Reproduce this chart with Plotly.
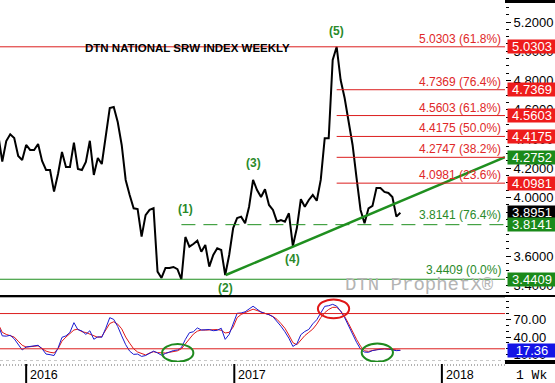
import pandas as pd
import plotly.graph_objects as go

# ---------------- data ----------------
week_start = "2015-11-13"
n_weeks = 102
dates = pd.date_range(week_start, periods=n_weeks, freq="7D")

price = [
    4.427, 4.245, 4.386, 4.432, 4.407, 4.284, 4.256, 4.359, 4.325, 4.325,
    4.366, 4.250, 4.188, 4.188, 4.040, 4.161, 4.311, 4.209, 4.209, 4.375,
    4.195, 4.188, 4.243, 4.388, 4.154, 4.270, 4.229, 4.407, 4.612, 4.619,
    4.516, 4.359, 4.120, 4.017, 3.926, 3.921, 3.732, 3.880, 3.915, 3.926,
    3.493, 3.450, 3.518, 3.518, 3.525, 3.510, 3.4409, 3.730, 3.664, 3.682,
    3.705, 3.629, 3.675, 3.527, 3.607, 3.653, 3.641, 3.470, 3.607, 3.791,
    3.860, 3.869, 3.824, 3.937, 4.120, 4.051, 4.003, 4.056, 3.949, 3.915,
    3.835, 3.846, 3.835, 3.892, 3.668, 3.791, 3.988, 3.937, 3.983, 4.017,
    3.978, 4.120, 4.405, 4.405, 4.940, 5.0303, 4.803, 4.680, 4.530, 4.359,
    4.133, 3.915, 3.824, 3.926, 3.942, 4.065, 4.065, 4.038, 4.031, 4.003,
    3.869, 3.8951,
]

stoch_k = [
    60, 42, 41.5, 43, 37, 27, 18, 23, 24, 25,
    26, 20, 11, 10, 8.5, 21, 39.5, 42, 48, 64.5,
    52.5, 50.5, 44.5, 50.7, 36.2, 40.5, 39.5, 55, 73, 70,
    58, 42, 27, 16, 10.5, 11, 7, 8.5, 13, 16,
    13, 9, 12, 14.5, 17, 18, 22, 36, 47.3, 49,
    55.5, 52, 52, 52.8, 50.8, 51.5, 55, 36, 44.5, 64,
    80.5, 81, 83, 87.8, 92.5, 87.5, 82.5, 80.2, 78.2, 74.5,
    67.3, 58.5, 49, 38, 24, 28.5, 44, 49.5, 53, 62.5,
    69.5, 80.5, 92.3, 93.4, 95.7, 92.7, 84, 73, 58, 44,
    31, 19.5, 14.4, 14, 17, 18.2, 19.6, 20, 19.5, 18,
    16.8, 17.36,
]

stoch_d = [
    62, 48, 44.5, 42.5, 40, 33, 26, 23, 23.2, 24.2,
    25, 20, 16, 14, 13, 20, 33, 40, 46, 52,
    53.5, 49, 47.7, 45, 41, 39.5, 41, 51.7, 63, 66,
    62, 54, 40, 29.5, 20, 14.5, 11.5, 9.5, 12.8, 15,
    13.5, 12.8, 12.8, 14, 15, 16.5, 20, 28, 37, 45,
    50, 52, 51.8, 52.3, 52.8, 52.8, 51.5, 47, 48, 57,
    73, 78.5, 81.6, 85, 87.5, 85.2, 83, 80.6, 78, 75,
    70.3, 63, 55, 43.4, 30.5, 26.9, 35, 42.5, 48, 53.5,
    62, 73, 81.5, 87, 90.6, 90.6, 84.5, 75, 62.8, 49,
    36, 24.5, 16.5, 15.6, 17, 18.7, 19.8, 20, 20, 19,
    18, 17.5,
]

x_range = ["2015-11-16", "2018-04-22"]
price_range = [3.3333, 5.3504]
stoch_range = [-2.5, 106.5]

# fibonacci levels
fib_red_levels = [4.7369, 4.5603, 4.4175, 4.2747, 4.0981]
fib_red_pcts = ["76.4%", "61.8%", "50.0%", "38.2%", "23.6%"]
top_level, top_pct = 5.0303, "61.8%"
retr_level, retr_pct = 3.8141, "76.4%"
base_level, base_pct = 3.4409, "0.0%"

# trendline (wave 2 low to right edge)
trend_dates = ["2016-12-17", "2018-04-22"]
trend_vals = [3.470, 4.2752]

# wave labels: (text, week index, anchor value, yshift)
wave_labels = [("(1)", 47, 3.8141, 16), ("(2)", 57, 3.470, -13),
               ("(3)", 64, 4.120, 17), ("(4)", 74, 3.668, -13),
               ("(5)", 85, 5.0303, 16)]

# value boxes on the right axis
boxes = [(5.0303, "#ee1c1c"), (4.7369, "#ee1c1c"), (4.5603, "#ee1c1c"),
         (4.4175, "#ee1c1c"), (4.2752, "#1a8a1a"), (4.0981, "#ee1c1c"),
         (3.8951, "#000000"), (3.8141, "#1a8a1a"), (3.4409, "#1a8a1a")]
stoch_box = 17.36

years = ["2016-01-01", "2017-01-01", "2018-01-01"]
year_labels = ["2016", "2017", "2018"]

stoch_levels = [80, 20]
stoch_ticks = [10, 40, 70]
price_ticks = [3.4, 3.6, 3.8, 4.0, 4.2, 4.4, 4.6, 4.8, 5.0, 5.2]

# ellipses in the stochastic pane: (x0, x1, y0, y1, colour)
ellipses = [("2016-08-27", "2016-10-21", -2, 28, "#1f8a1f"),
            ("2017-08-13", "2017-10-07", -2, 29, "#1f8a1f"),
            ("2017-05-28", "2017-07-22", 72, 104, "#e01818")]

# ---------------- figure ----------------
W, H = 555, 383
ML, MR, MT, MB = 0, 50, 0, 21
PH = H - MT - MB          # plot height in px
PW = W - ML - MR


def py(px):               # pixel y (from top) -> paper y
    return 1 - (px - MT) / PH


def pxx(px):              # pixel x -> paper x
    return (px - ML) / PW


RED = "#dc1e1e"
RED_T = "#e02828"
GREEN = "#1f8f1f"
GREEN_T = "#2a8a2a"
FONT = "Liberation Sans"
MONO = "Liberation Mono, DejaVu Sans Mono, monospace"

fig = go.Figure()

fig.add_trace(go.Scatter(x=dates, y=price, mode="lines",
                         line=dict(color="black", width=2),
                         xaxis="x", yaxis="y", hoverinfo="skip"))
fig.add_trace(go.Scatter(x=trend_dates, y=trend_vals, mode="lines",
                         line=dict(color=GREEN, width=2.5),
                         xaxis="x", yaxis="y", hoverinfo="skip"))
fig.add_trace(go.Scatter(x=dates, y=stoch_d, mode="lines",
                         line=dict(color="#e01818", width=1),
                         xaxis="x2", yaxis="y2", hoverinfo="skip"))
fig.add_trace(go.Scatter(x=dates, y=stoch_k, mode="lines",
                         line=dict(color="#1a1ad0", width=1),
                         xaxis="x2", yaxis="y2", hoverinfo="skip"))

shapes = []
# full width lines
shapes.append(dict(type="line", xref="paper", yref="y", x0=0, x1=1,
                   y0=top_level, y1=top_level, line=dict(color=RED, width=1)))
shapes.append(dict(type="line", xref="paper", yref="y", x0=0, x1=1,
                   y0=base_level, y1=base_level, line=dict(color=GREEN, width=1)))
peak_date = dates[85]
for lv in fib_red_levels:
    shapes.append(dict(type="line", xref="x", yref="y", x0=peak_date, x1=x_range[1],
                       y0=lv, y1=lv, line=dict(color=RED, width=1)))
shapes.append(dict(type="line", xref="x", yref="y", x0=dates[46], x1=x_range[1],
                   y0=retr_level, y1=retr_level,
                   line=dict(color=GREEN, width=1, dash="14px,8px")))
# stochastic levels
for lv in stoch_levels:
    shapes.append(dict(type="line", xref="paper", yref="y2", x0=0, x1=1,
                       y0=lv, y1=lv, line=dict(color=RED, width=1)))
shapes.append(dict(type="line", xref="paper", yref="y2", x0=0, x1=1,
                   y0=0, y1=0, line=dict(color="#c8c8c8", width=1, dash="3px,3px")))
for x0, x1, y0, y1, c in ellipses:
    shapes.append(dict(type="circle", xref="x2", yref="y2", x0=x0, x1=x1,
                       y0=y0, y1=y1, line=dict(color=c, width=2)))
# separators / frame pieces
shapes.append(dict(type="line", xref="paper", yref="paper", x0=0, x1=W / PW,
                   y0=py(296), y1=py(296), line=dict(color="black", width=2)))
shapes.append(dict(type="line", xref="paper", yref="paper", x0=0, x1=1,
                   y0=py(297.5), y1=py(297.5), line=dict(color="#b0b0b0", width=1)))
shapes.append(dict(type="rect", xref="paper", yref="paper", x0=1, x1=W / PW,
                   y0=py(0), y1=py(3), fillcolor="black", line=dict(width=0)))
shapes.append(dict(type="rect", xref="paper", yref="paper", x0=1, x1=W / PW,
                   y0=py(360), y1=py(364), fillcolor="black", line=dict(width=0)))
shapes.append(dict(type="line", xref="paper", yref="paper", x0=0, x1=1,
                   y0=py(365), y1=py(365), line=dict(color="#666666", width=1, dash="1px,2px")))
for yd in years:
    shapes.append(dict(type="line", xref="x2", yref="paper", x0=yd, x1=yd,
                       y0=py(364), y1=py(383), line=dict(color="black", width=2)))

ann = []
ann.append(dict(text="DTN NATIONAL SRW INDEX WEEKLY", xref="paper", yref="paper",
                x=pxx(187), y=py(40), showarrow=False,
                font=dict(family=FONT, size=11.5, color="black", weight="bold")))
# fib labels
ann.append(dict(text=f"{top_level:.4f} ({top_pct})", xref="paper", yref="y", x=1,
                y=top_level, xanchor="right", yanchor="middle", xshift=-2, yshift=8,
                showarrow=False, font=dict(family=FONT, size=12, color=RED_T)))
for lv, pc in zip(fib_red_levels, fib_red_pcts):
    ann.append(dict(text=f"{lv:.4f} ({pc})", xref="paper", yref="y", x=1, y=lv,
                    xanchor="right", yanchor="middle", xshift=-2, yshift=8,
                    showarrow=False, font=dict(family=FONT, size=12, color=RED_T)))
for lv, pc, ys in [(retr_level, retr_pct, 10), (base_level, base_pct, 9)]:
    ann.append(dict(text=f"{lv:.4f} ({pc})", xref="paper", yref="y", x=1, y=lv,
                    xanchor="right", yanchor="middle", xshift=-2, yshift=ys,
                    showarrow=False, font=dict(family=FONT, size=12, color=GREEN_T)))
# wave labels
for txt, idx, val, ys in wave_labels:
    ann.append(dict(text=txt, xref="x", yref="y", x=dates[idx], y=val, yshift=ys,
                    showarrow=False,
                    font=dict(family=FONT, size=12, color=GREEN_T, weight="bold")))
# watermark
ann.append(dict(text="DTN ProphetX®", xref="paper", yref="paper", x=pxx(496),
                y=py(285), xanchor="right", yanchor="middle", showarrow=False,
                font=dict(family=MONO, size=19, color="#b4b4b4")))
# value boxes
for val, col in boxes:
    ann.append(dict(text=f"{val:.4f}", xref="paper", yref="y", x=1, y=val,
                    xanchor="left", yanchor="middle", xshift=2, showarrow=False,
                    bgcolor=col, width=48, height=13, borderpad=0, align="center",
                    font=dict(family=FONT, size=13, color="white")))
ann.append(dict(text=f"{stoch_box:.2f}", xref="paper", yref="y2", x=1, y=stoch_box,
                xanchor="left", yanchor="middle", xshift=2, showarrow=False,
                bgcolor="#1414e6", width=48, height=13, borderpad=0, align="center",
                font=dict(family=FONT, size=13, color="white")))
# years
for yd, yl in zip(years, year_labels):
    ann.append(dict(text=yl, xref="x2", yref="paper", x=yd, y=py(375),
                    xanchor="left", yanchor="middle", xshift=2, showarrow=False,
                    font=dict(family=FONT, size=12.5, color="black")))
ann.append(dict(text="1 Wk", xref="paper", yref="paper", x=pxx(514), y=py(375),
                xanchor="left", yanchor="middle", showarrow=False,
                font=dict(family=MONO, size=13, color="black")))

fig.update_layout(
    width=W, height=H,
    margin=dict(l=ML, r=MR, t=MT, b=MB),
    paper_bgcolor="white", plot_bgcolor="white",
    showlegend=False,
    xaxis=dict(range=x_range, domain=[0, 1], anchor="y", showticklabels=False,
               showgrid=False, zeroline=False, ticks=""),
    xaxis2=dict(range=x_range, domain=[0, 1], anchor="y2", showticklabels=False,
                showgrid=False, zeroline=False, ticks="", matches="x"),
    yaxis=dict(range=price_range, domain=[py(295), 1], side="right", anchor="x",
               tickvals=price_ticks, tickformat=".4f", showgrid=False,
               zeroline=False, showline=False,
               ticks="outside", ticklen=5, tickcolor="black",
               minor=dict(ticks="outside", ticklen=3, dtick=0.05, tickcolor="black"),
               tickfont=dict(family=FONT, size=13, color="black")),
    yaxis2=dict(range=stoch_range, domain=[0, py(298)], side="right", anchor="x2",
                tickvals=stoch_ticks, tickformat=".2f", showgrid=False,
                zeroline=False, showline=False,
                ticks="outside", ticklen=5, tickcolor="black",
                minor=dict(ticks="outside", ticklen=3, dtick=10, tickcolor="black"),
                tickfont=dict(family=FONT, size=13, color="black")),
    shapes=shapes,
    annotations=ann,
)

fig.write_html(
    "out.html",
    config={"displayModeBar": False},
    post_script="document.documentElement.style.margin='0';"
                "document.body.style.margin='0';"
                "document.body.style.overflow='hidden';",
)
